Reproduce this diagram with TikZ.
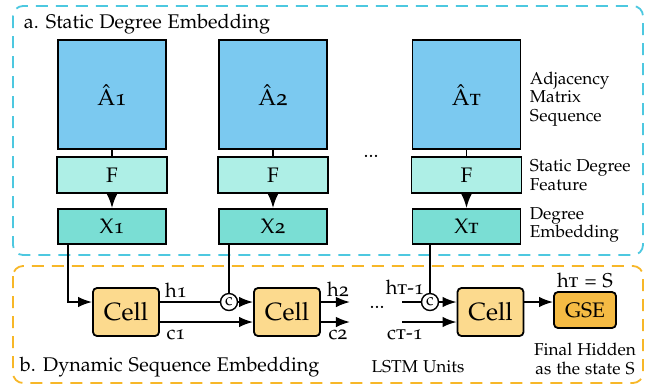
\documentclass[tikz,border=0pt]{standalone}
\usepackage[T1]{fontenc}
\usepackage[osf]{mathpazo}
\usepackage{tikz}
\usetikzlibrary{positioning, arrows.meta}

\definecolor{adjblue}{RGB}{123,201,240}
\definecolor{featteal}{RGB}{174,239,230}
\definecolor{embteal}{RGB}{122,222,212}
\definecolor{cellorange}{RGB}{252,218,142}
\definecolor{gseorange}{RGB}{245,187,68}
\definecolor{frameblue}{RGB}{77,200,224}
\definecolor{frameorange}{RGB}{247,183,40}

\tikzset{
    adjbox/.style={draw, line width=0.9pt, fill=adjblue, minimum width=54pt, minimum height=54.5pt, font=\fontsize{11.5}{13}\selectfont},
    featbox/.style={draw, line width=0.9pt, fill=featteal, minimum width=55pt, minimum height=18pt, font=\fontsize{10.5}{12}\selectfont},
    embbox/.style={draw, line width=0.9pt, fill=embteal, minimum width=54pt, minimum height=17.5pt, font=\fontsize{10.5}{12}\selectfont},
    cellbox/.style={draw, rounded corners=2pt, line width=0.9pt, fill=cellorange, minimum width=33pt, minimum height=24pt, font=\fontsize{12.5}{14}\selectfont},
    gsebox/.style={draw, rounded corners=2pt, line width=0.9pt, fill=gseorange, minimum width=31pt, minimum height=18pt, font=\fontsize{10.5}{12}\selectfont},
    concat/.style={draw, circle, fill=white, line width=0.7pt, minimum size=8.5pt, inner sep=0pt, font=\fontsize{8.5}{8.5}\selectfont},
    sidelabel/.style={align=left, anchor=west, inner sep=0pt, font=\fontsize{8.6}{9.3}\selectfont},
    statelabel/.style={inner sep=0pt, font=\fontsize{10}{11}\selectfont},
    framelabel/.style={anchor=west, inner sep=0pt, font=\fontsize{9.9}{12}\selectfont}
}

\begin{document}
\begin{tikzpicture}[x=0.5pt, y=-0.5pt, >=Latex, line width=0.9pt]
                    \useasboundingbox (0,0) rectangle (654,388);

                    \draw[frameblue, dashed, dash pattern=on 6pt off 4pt, rounded corners=5pt] (13,6) rectangle (643,255);
                    \draw[frameorange, dashed, dash pattern=on 6pt off 4pt, rounded corners=5pt] (13,266) rectangle (643,383);
                    \node[framelabel] (title_a) at (23,24) {a. Static Degree Embedding};
                    \node[framelabel] (title_b) at (19,367) {b. Dynamic Sequence Embedding};

                    \node[adjbox] (adj1) at (112,94.5) {\^{A}1};
                    \node[adjbox] (adj2) at (273,94.5) {\^{A}2};
                    \node[adjbox] (adjT) at (466.5,94.5) {\^{A}\textsc{t}};
                    \node[featbox] (feat1) at (112,175) {F};
                    \node[featbox] (feat2) at (273,175) {F};
                    \node[featbox] (featT) at (466.5,175) {F};
                    \node[embbox] (emb1) at (112,226.5) {X1};
                    \node[embbox] (emb2) at (273,226.5) {X2};
                    \node[embbox] (embT) at (466.5,226.5) {X\textsc{t}};
                    \node[statelabel] (dots_top) at (371,156) {...};

                    \node[sidelabel] (adj_label) at (529,99) {Adjacency\\Matrix\\Sequence};
                    \node[sidelabel] (feat_label) at (529,175) {Static Degree\\Feature};
                    \node[sidelabel] (emb_label) at (529,225) {Degree\\Embedding};

                    \node[cellbox] (cell1) at (126,312) {Cell};
                    \node[cellbox] (cell2) at (287,312) {Cell};
                    \node[cellbox] (cellT) at (490.5,312) {Cell};
                    \node[gsebox] (gse) at (585,310) {GSE};
                    \node[concat] (cat2) at (229,302) {c};
                    \node[concat] (catT) at (430,302) {c};

                    \coordinate (h2_end) at (350,302);
                    \coordinate (c2_end) at (350,322);
                    \coordinate (hT_start) at (402,302);
                    \coordinate (cT_start) at (402,322);
                    \node[statelabel] (dots_bottom) at (377,307) {...};

                    \node[statelabel] (h1) at (176,290) {h1};
                    \node[statelabel] (c1) at (176,335) {c1};
                    \node[statelabel] (h2) at (338,289) {h2};
                    \node[statelabel] (c2) at (338,335) {c2};
                    \node[statelabel] (hT1) at (405,287) {h\textsc{t}-1};
                    \node[statelabel] (cT1) at (405,335) {c\textsc{t}-1};
                    \node[statelabel] (hTS) at (585,280) {h\textsc{t} = S};
                    \node[sidelabel, anchor=center, align=center] (final_label) at (585,359) {Final Hidden\\as the state S};
                    \node[sidelabel, anchor=center] (lstm_label) at (418,367) {LSTM Units};

                    \draw (adj1) -- (feat1);
                    \draw (adj2) -- (feat2);
                    \draw (adjT) -- (featT);
                    \draw[->] (feat1) -- (emb1);
                    \draw[->] (feat2) -- (emb2);
                    \draw[->] (featT) -- (embT);

                    \draw[->] ([xshift=5.5pt]emb1.south west) |- ([yshift=5pt]cell1.west);
                    \draw ([yshift=5pt]cell1.east) -- (cat2);
                    \draw (emb2.south -| cat2) -- (cat2);
                    \draw[->] (cat2) -- (cat2 -| cell2.west);
                    \draw[->] ([yshift=-5pt]cell1.east) -- ([yshift=-5pt]cell2.west);
                    \draw[->] ([yshift=5pt]cell2.east) -- (h2_end);
                    \draw[->] ([yshift=-5pt]cell2.east) -- (c2_end);
                    \draw (hT_start) -- (catT);
                    \draw (embT.south -| catT) -- (catT);
                    \draw[->] (catT) -- (catT -| cellT.west);
                    \draw[->] (cT_start) -- (cT_start -| cellT.west);
                    \draw[->] ([yshift=5pt]cellT.east) -- ([yshift=5pt]cellT.east -| gse.west);
                \end{tikzpicture}
\end{document}
